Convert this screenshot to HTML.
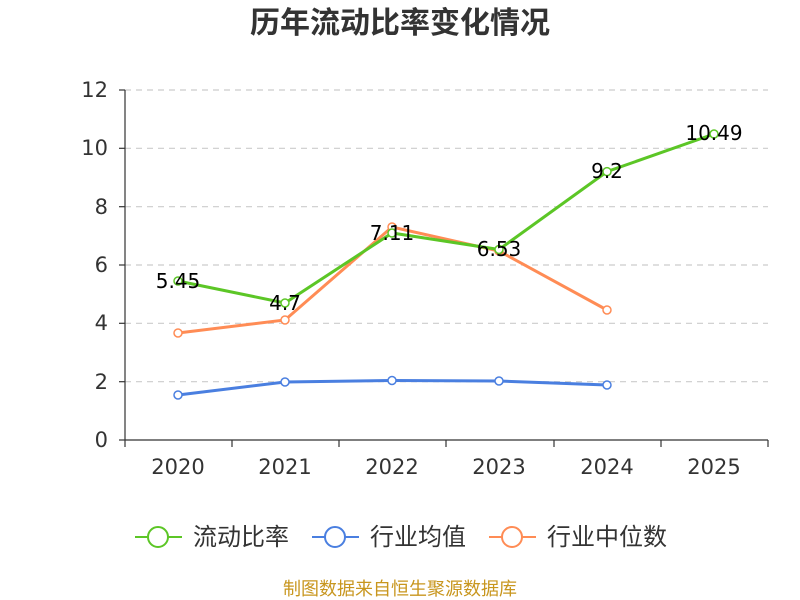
<!DOCTYPE html>
<html><head><meta charset="utf-8"><style>
body{margin:0;background:#fff;}
svg{display:block;font-family:"DejaVu Sans","Noto Sans CJK SC",sans-serif;}
</style></head><body>
<svg width="800" height="600" viewBox="0 0 800 600">
<text x="400" y="33" text-anchor="middle" font-size="30" font-weight="bold" fill="#333" font-family="Noto Sans CJK SC, sans-serif">历年流动比率变化情况</text>
<g stroke="#ccc" stroke-dasharray="6,5" stroke-width="1.2">
<line x1="125" x2="768" y1="90" y2="90"/><line x1="125" x2="768" y1="148.3" y2="148.3"/>
<line x1="125" x2="768" y1="206.7" y2="206.7"/><line x1="125" x2="768" y1="265" y2="265"/>
<line x1="125" x2="768" y1="323.3" y2="323.3"/><line x1="125" x2="768" y1="381.7" y2="381.7"/>
</g>
<g stroke="#333" stroke-width="1.2">
<line x1="125" x2="125" y1="90" y2="440"/><line x1="125" x2="768" y1="440" y2="440"/>
<line x1="119" x2="125" y1="90" y2="90"/><line x1="119" x2="125" y1="148.3" y2="148.3"/><line x1="119" x2="125" y1="206.7" y2="206.7"/><line x1="119" x2="125" y1="265" y2="265"/><line x1="119" x2="125" y1="323.3" y2="323.3"/><line x1="119" x2="125" y1="381.7" y2="381.7"/><line x1="119" x2="125" y1="440" y2="440"/>
<line x1="125" x2="125" y1="440" y2="447"/><line x1="232" x2="232" y1="440" y2="447"/><line x1="339" x2="339" y1="440" y2="447"/><line x1="446" x2="446" y1="440" y2="447"/><line x1="554" x2="554" y1="440" y2="447"/><line x1="661" x2="661" y1="440" y2="447"/><line x1="768" x2="768" y1="440" y2="447"/>
</g>
<g font-size="21" fill="#333" text-anchor="end">
<text x="108" y="97">12</text><text x="108" y="155">10</text><text x="108" y="214">8</text><text x="108" y="272">6</text><text x="108" y="330">4</text><text x="108" y="389">2</text><text x="108" y="447">0</text>
</g>
<g font-size="21" fill="#333" text-anchor="middle">
<text x="178" y="474">2020</text><text x="285" y="474">2021</text><text x="392" y="474">2022</text><text x="499" y="474">2023</text><text x="607" y="474">2024</text><text x="714" y="474">2025</text>
</g>
<polyline fill="none" stroke="#4a7fe0" stroke-width="3" points="178,395 285,382 392,380.5 499,381 607,385"/>
<polyline fill="none" stroke="#ff8c55" stroke-width="3" points="178,333 285,320 392,227 499,251 607,310"/>
<polyline fill="none" stroke="#5cc626" stroke-width="3" points="178,281 285,303 392,233 499,249.5 607,171.6 714,134"/>
<g fill="#fff" stroke-width="1.5">
<g stroke="#4a7fe0"><circle cx="178" cy="395" r="4"/><circle cx="285" cy="382" r="4"/><circle cx="392" cy="380.5" r="4"/><circle cx="499" cy="381" r="4"/><circle cx="607" cy="385" r="4"/></g>
<g stroke="#ff8c55"><circle cx="178" cy="333" r="4"/><circle cx="285" cy="320" r="4"/><circle cx="392" cy="227" r="4"/><circle cx="499" cy="251" r="4"/><circle cx="607" cy="310" r="4"/></g>
<g stroke="#5cc626"><circle cx="178" cy="281" r="4"/><circle cx="285" cy="303" r="4"/><circle cx="392" cy="233" r="4"/><circle cx="499" cy="249.5" r="4"/><circle cx="607" cy="171.6" r="4"/><circle cx="714" cy="134" r="4"/></g>
</g>
<g font-size="20" fill="#000" text-anchor="middle">
<text x="178" y="288">5.45</text><text x="285" y="310">4.7</text><text x="392" y="240">7.11</text><text x="499" y="256">6.53</text><text x="607" y="178">9.2</text><text x="714" y="140">10.49</text>
</g>
<g stroke-width="2" fill="#fff">
<line x1="135" x2="182" y1="537" y2="537" stroke="#5cc626"/><circle cx="158" cy="537" r="10" stroke="#5cc626"/>
<line x1="312" x2="359" y1="537" y2="537" stroke="#4a7fe0"/><circle cx="335" cy="537" r="10" stroke="#4a7fe0"/>
<line x1="489" x2="536" y1="537" y2="537" stroke="#ff8c55"/><circle cx="512" cy="537" r="10" stroke="#ff8c55"/>
</g>
<g font-size="24" fill="#333">
<text x="193" y="545">流动比率</text><text x="370" y="545">行业均值</text><text x="547" y="545">行业中位数</text>
</g>
<text x="400" y="595" text-anchor="middle" font-size="18" fill="#c8961e">制图数据来自恒生聚源数据库</text>
</svg>
</body></html>
